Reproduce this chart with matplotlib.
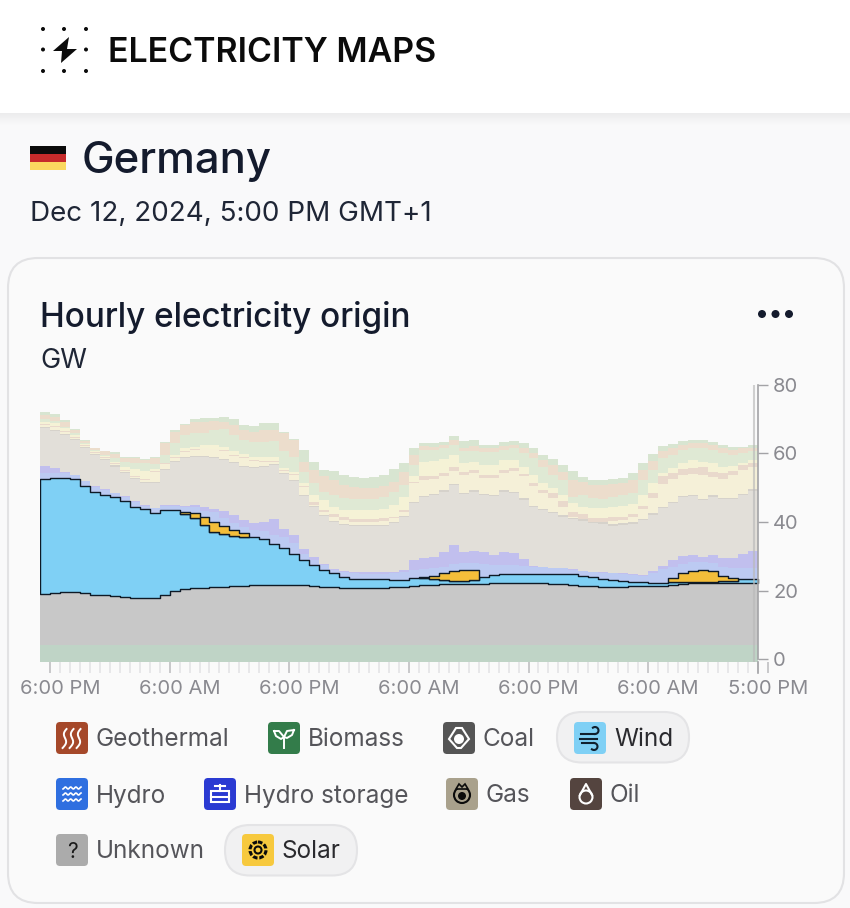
import numpy as np
import matplotlib
matplotlib.use('Agg')
from matplotlib import pyplot as plt
from matplotlib.patches import FancyBboxPatch, Rectangle, Circle, Polygon
from matplotlib.transforms import ScaledTranslation

# Hourly stack, GW. Series that were easier to read as stack tops are named *_top.
biomass_top = [4.2, 4.2, 4.2, 4.2, 4.2, 4.2, 4.2, 4.2, 4.2, 4.2, 4.2, 4.2, 4.2, 4.2, 4.2, 4.2, 4.2, 4.2,
               4.2, 4.2, 4.2, 4.2, 4.2, 4.2, 4.2, 4.2, 4.2, 4.2, 4.2, 4.2, 4.2, 4.2, 4.2, 4.2, 4.2, 4.2,
               4.2, 4.2, 4.2, 4.2, 4.2, 4.2, 4.2, 4.2, 4.2, 4.2, 4.2, 4.2, 4.2, 4.2, 4.2, 4.2, 4.2, 4.2,
               4.2, 4.2, 4.2, 4.2, 4.2, 4.2, 4.2, 4.2, 4.2, 4.2, 4.2, 4.2, 4.2, 4.2, 4.2, 4.2, 4.2, 4.2]
coal_top = [19.0, 19.3, 19.5, 19.6, 19.4, 18.8, 18.8, 18.5, 18.1, 17.7, 17.9, 17.9, 18.7, 19.9, 20.4, 20.7, 20.7, 20.9,
            21.0, 21.2, 21.3, 21.6, 21.7, 21.7, 21.7, 21.6, 21.5, 21.3, 21.1, 21.0, 20.8, 20.6, 20.6, 20.6, 20.7, 20.9,
            21.1, 21.4, 21.7, 21.7, 21.8, 21.9, 21.9, 21.9, 22.0, 22.2, 22.2, 22.2, 22.2, 22.2, 22.1, 22.0, 22.0, 21.7,
            21.2, 21.2, 21.1, 21.1, 21.1, 21.2, 21.2, 21.2, 21.2, 21.5, 22.0, 22.1, 22.1, 22.2, 22.2, 22.2, 22.3, 22.3]
wind_top = [52.7, 52.8, 52.9, 52.5, 50.5, 48.9, 48.0, 47.2, 46.2, 44.3, 43.7, 42.6, 43.6, 43.5, 42.4, 41.2, 39.0, 37.0,
            36.4, 35.8, 35.7, 35.6, 35.0, 33.7, 32.4, 30.8, 28.9, 27.3, 25.9, 25.2, 24.0, 23.5, 23.4, 23.4, 23.3, 23.2,
            23.2, 23.6, 23.6, 23.3, 23.1, 22.9, 22.9, 23.1, 23.9, 24.6, 24.8, 24.8, 24.7, 24.7, 24.7, 24.7, 24.8, 24.7,
            24.1, 23.8, 23.4, 23.1, 22.9, 22.6, 22.4, 22.3, 22.3, 22.4, 22.6, 22.6, 22.6, 22.6, 22.7, 22.9, 23.3, 23.5]
solar = [0, 0, 0, 0, 0, 0, 0, 0, 0, 0, 0, 0, 0, 0, 0.4, 1.4, 2.5, 3.1,
         2.5, 1.9, 1.1, 0.3, 0, 0, 0, 0, 0, 0, 0, 0, 0, 0, 0, 0, 0, 0,
         0, 0, 0.2, 0.8, 2.1, 2.8, 3.0, 2.8, 1.5, 0, 0, 0, 0, 0, 0, 0, 0, 0,
         0, 0, 0, 0, 0, 0, 0, 0, 0, 1.2, 2.4, 3.1, 3.4, 3.1, 1.6, 0.7, 0.1, 0]
hydro_top = [54.2, 54.2, 54.4, 53.7, 52.0, 50.3, 49.4, 48.4, 47.4, 45.7, 44.7, 44.0, 44.7, 44.7, 44.3, 44.3, 43.3, 42.8,
             41.1, 39.8, 38.5, 37.7, 37.5, 36.2, 35.5, 33.8, 30.7, 29.0, 27.5, 26.0, 25.3, 25.0, 24.9, 24.9, 24.9, 25.1,
             25.5, 26.0, 26.2, 26.5, 27.0, 27.8, 28.0, 28.0, 27.7, 27.5, 27.5, 27.5, 27.2, 27.0, 26.8, 26.5, 26.5, 26.0,
             25.6, 25.3, 25.1, 25.0, 24.9, 24.6, 24.2, 25.1, 26.2, 27.0, 27.8, 28.2, 28.3, 28.0, 27.0, 26.5, 26.5, 26.5]
storage_top = [56.4, 55.7, 54.7, 53.7, 52.1, 50.5, 49.6, 48.6, 47.6, 46.0, 44.9, 44.1, 45.0, 44.9, 44.8, 44.9, 44.5, 43.7,
               43.1, 42.1, 40.6, 39.8, 40.1, 40.9, 38.0, 36.1, 32.2, 29.9, 27.8, 26.3, 25.6, 25.3, 25.3, 25.3, 25.3, 25.3,
               26.0, 29.0, 29.4, 29.9, 31.2, 33.3, 31.1, 31.6, 31.2, 30.4, 31.1, 30.9, 29.2, 27.2, 27.0, 26.7, 26.5, 26.2,
               25.8, 25.5, 25.3, 25.1, 25.0, 24.8, 24.6, 25.6, 27.2, 29.0, 30.2, 30.4, 29.9, 30.4, 29.6, 29.4, 30.7, 31.4]
gas_top = [67.3, 66.7, 65.4, 63.9, 61.5, 59.6, 58.1, 56.2, 54.2, 52.5, 51.5, 51.3, 55.2, 57.6, 58.6, 59.1, 58.9, 58.6,
           58.1, 57.2, 56.0, 55.7, 56.0, 56.7, 54.0, 52.1, 47.6, 44.5, 41.8, 40.1, 39.2, 38.7, 38.7, 38.7, 38.7, 39.7,
           41.4, 45.5, 47.2, 47.9, 48.9, 50.8, 48.2, 48.9, 47.9, 47.6, 48.9, 48.4, 46.5, 44.3, 43.5, 42.6, 41.6, 40.8,
           40.4, 39.7, 39.5, 38.9, 39.2, 39.5, 40.6, 42.1, 44.0, 45.5, 47.2, 47.6, 46.3, 47.4, 46.6, 46.6, 47.9, 49.1]
oil_top = [67.6, 67.0, 65.7, 64.2, 61.8, 59.9, 58.4, 56.5, 54.5, 52.8, 51.8, 51.6, 55.5, 57.9, 58.9, 59.4, 59.2, 58.9,
           58.4, 57.5, 56.3, 56.0, 56.3, 57.0, 54.3, 52.4, 47.9, 44.8, 42.1, 40.4, 39.5, 39.0, 39.0, 39.0, 39.0, 40.0,
           41.7, 45.8, 47.6, 48.3, 49.3, 51.2, 48.6, 49.3, 48.3, 48.0, 49.3, 48.8, 46.9, 44.7, 43.9, 43.0, 42.0, 41.2,
           40.8, 40.1, 39.9, 39.3, 39.6, 39.9, 41.0, 42.5, 44.4, 45.9, 47.6, 48.0, 46.7, 47.8, 47.0, 47.0, 48.3, 49.5]

# pale bands above: one per import origin
import1_top = [68.2, 67.7, 66.3, 64.6, 62.2, 60.0, 58.6, 56.9, 54.8, 53.2, 52.4, 54.7, 56.9, 58.6, 60.3, 61.0, 61.5, 61.2,
               60.8, 59.3, 58.6, 57.8, 57.6, 57.6, 54.9, 53.8, 50.2, 45.0, 42.8, 41.4, 40.6, 40.1, 40.1, 40.1, 40.3, 41.1,
               42.8, 51.3, 52.3, 52.5, 53.3, 55.0, 53.8, 54.2, 52.8, 52.8, 54.2, 55.0, 53.3, 50.5, 48.4, 46.9, 44.3, 41.4,
               40.8, 40.1, 40.1, 40.3, 40.6, 41.4, 43.7, 46.9, 51.1, 52.5, 53.8, 54.0, 53.8, 53.1, 52.7, 53.8, 55.2, 56.0]
import2_top = [68.6, 68.0, 66.7, 64.9, 62.4, 60.3, 58.9, 57.2, 55.2, 53.5, 52.7, 55.0, 57.2, 58.9, 60.6, 61.2, 61.7, 61.4,
               61.0, 59.5, 58.9, 58.1, 57.9, 57.9, 55.2, 54.0, 50.5, 45.7, 43.4, 42.3, 41.4, 41.0, 40.8, 40.8, 41.1, 41.6,
               43.5, 51.8, 53.3, 53.3, 54.2, 56.0, 54.7, 55.2, 53.8, 53.6, 55.2, 55.7, 54.0, 51.5, 49.4, 48.4, 46.0, 42.8,
               42.4, 41.3, 41.3, 41.4, 41.6, 42.3, 44.7, 48.4, 53.3, 54.2, 55.4, 55.7, 56.0, 54.7, 54.2, 55.0, 56.7, 57.2]
import3_top = [69.3, 68.8, 67.4, 65.3, 62.8, 60.6, 59.3, 57.6, 56.0, 55.4, 55.0, 55.4, 57.2, 59.6, 61.5, 62.0, 62.5, 62.5,
               62.0, 60.6, 59.9, 58.9, 58.9, 58.9, 55.7, 54.7, 51.3, 47.9, 46.3, 44.5, 43.5, 43.4, 43.4, 43.4, 43.7, 45.0,
               47.4, 53.3, 57.6, 57.8, 58.3, 59.6, 57.2, 57.6, 56.7, 56.7, 58.1, 58.1, 56.2, 53.8, 51.3, 49.9, 47.9, 45.5,
               44.5, 44.0, 44.0, 44.5, 44.7, 45.3, 47.9, 51.3, 54.2, 55.7, 57.2, 58.1, 57.6, 57.2, 56.2, 56.4, 57.2, 58.1]
import4_top = [70.0, 69.6, 67.8, 65.9, 63.2, 61.0, 59.6, 58.6, 57.6, 57.2, 57.2, 57.0, 59.6, 63.0, 65.4, 65.9, 65.9, 66.9,
               67.1, 65.4, 64.0, 63.5, 63.5, 63.7, 60.6, 58.9, 54.7, 51.3, 48.9, 47.9, 46.9, 46.7, 46.7, 46.7, 47.4, 48.9,
               50.8, 56.7, 61.0, 61.0, 61.5, 62.5, 60.6, 60.8, 60.3, 60.3, 61.0, 61.5, 60.1, 58.6, 56.2, 53.8, 52.3, 47.4,
               47.9, 46.9, 46.7, 47.2, 47.9, 48.4, 52.3, 55.2, 58.6, 59.6, 61.0, 61.5, 61.5, 61.0, 60.1, 59.6, 60.1, 60.6]
import5_top = [71.2, 70.8, 69.3, 66.9, 63.7, 61.5, 60.6, 59.9, 58.6, 58.6, 58.1, 58.6, 63.0, 66.4, 68.3, 69.3, 69.3, 69.5,
               69.3, 68.3, 66.9, 66.4, 66.9, 66.9, 65.9, 64.0, 57.6, 55.2, 53.3, 52.3, 50.8, 50.2, 49.9, 49.9, 50.4, 51.8,
               54.7, 59.6, 62.2, 62.0, 62.5, 64.0, 61.7, 62.2, 61.5, 61.5, 62.2, 62.5, 61.5, 60.1, 58.1, 56.7, 54.7, 52.3,
               51.8, 50.8, 50.8, 51.1, 51.5, 52.3, 55.2, 57.9, 60.6, 61.5, 62.5, 63.0, 63.0, 62.5, 61.5, 61.0, 61.5, 61.5]
total_top = [72.2, 71.5, 69.7, 67.2, 63.8, 61.6, 60.7, 60.3, 58.9, 58.9, 58.4, 58.9, 63.3, 66.9, 68.6, 70.0, 70.3, 70.3,
             70.6, 70.1, 68.4, 67.9, 68.9, 69.0, 66.2, 64.3, 61.0, 57.5, 55.2, 54.9, 53.7, 53.1, 52.8, 53.2, 53.7, 55.4,
             57.1, 61.5, 63.0, 63.0, 63.5, 65.0, 63.7, 63.8, 62.5, 62.5, 63.3, 63.7, 63.0, 61.5, 59.6, 58.3, 56.7, 55.0,
             53.1, 52.3, 52.3, 52.5, 52.8, 54.4, 57.1, 59.9, 62.2, 62.8, 63.7, 63.9, 63.9, 63.5, 62.5, 62.0, 62.0, 62.5]

major_hours = [1, 13, 25, 37, 49, 61, 73]
major_labels = ['6:00 PM', '6:00 AM', '6:00 PM', '6:00 AM', '6:00 PM', '6:00 AM', '5:00 PM']
y_ticks = [0, 20, 40, 60, 80]

legend_names = ['Geothermal', 'Biomass', 'Coal', 'Wind', 'Hydro', 'Hydro storage', 'Gas', 'Oil', 'Unknown', 'Solar']
legend_colors = ['#A5482A', '#337C4A', '#555555', '#7FD0F5', '#2F6FE0', '#2A3AD2', '#A9A18C', '#54443F', '#ABABAB', '#F7C93E']
legend_x = [72, 284, 459, 590, 72, 220, 462, 586, 72, 258]
legend_y = [738, 738, 738, 738, 794, 794, 794, 794, 850, 850]

W, H = 850, 908
plt.rcParams['font.family'] = ['Inter', 'DejaVu Sans']
fig = plt.figure(figsize=(W / 100, H / 100), dpi=100, facecolor='#F9F9FA')

# page furniture, in pixel coordinates
ui = fig.add_axes([0, 0, 1, 1])
ui.set_xlim(0, W)
ui.set_ylim(H, 0)
ui.axis('off')

ui.add_patch(Rectangle((0, 0), W, 113, fc='white', ec='none'))
for k in range(12):
    ui.add_patch(Rectangle((0, 113 + k), W, 1, fc='#000000', alpha=0.05 * (1 - k / 12), ec='none'))

for dx in [43, 64, 86]:
    for dy in [29, 49.5, 71]:
        if dx != 64 or dy != 49.5:
            ui.add_patch(Circle((dx, dy), 2, fc='#0B0B0B', ec='none'))
ui.add_patch(Polygon([(69, 37), (53, 51), (62, 51), (61, 63), (77, 49), (67, 49)], fc='#0B0B0B', ec='none'))
ui.text(108, 53, 'ELECTRICITY MAPS', fontsize=24.4, fontweight='semibold', color='#0B0B0B', va='center', ha='left')

ui.add_patch(Rectangle((30, 146), 36, 8, fc='#0B0B0B', ec='none'))
ui.add_patch(Rectangle((30, 154), 36, 8, fc='#C62B2B', ec='none'))
ui.add_patch(Rectangle((30, 162), 36, 8, fc='#FBD95F', ec='none'))
ui.text(82, 162, 'Germany', fontsize=31.5, fontweight='medium', color='#141B2D', va='center', ha='left')
ui.text(30, 214, 'Dec 12, 2024, 5:00 PM GMT+1', fontsize=20, color='#1F2636', va='center', ha='left')

ui.add_patch(FancyBboxPatch((8, 258), 836, 645, boxstyle='round,pad=0,rounding_size=30', fc='#FAFAFA', ec='#E2E2E4', lw=1.5))
ui.text(40, 317, 'Hourly electricity origin', fontsize=24, fontweight='medium', color='#141B2D', va='center', ha='left')
ui.text(40, 361, 'GW', fontsize=19.5, color='#1F2636', va='center', ha='left')
for dx in [762, 775.5, 789]:
    ui.add_patch(Circle((dx, 314), 4, fc='#141B2D', ec='none'))


# small white/black glyphs drawn inside the legend squares
def draw_glyph(name, cx, cy):
    if name == 'Geothermal':
        for off in [-7, 0, 7]:
            yy = np.linspace(-9, 10, 20)
            ui.plot(cx + off + 2 * np.sin(yy / 3) - yy / 5, cy + yy, color='white', lw=1.4)
    elif name == 'Biomass':
        ui.plot([cx, cx], [cy - 1, cy + 10], color='white', lw=1.4)
        ui.plot([cx - 10, cx - 8, cx - 3, cx, cx - 5, cx - 10], [cy - 7, cy - 2, cy + 1, cy - 1, cy - 7, cy - 7], color='white', lw=1.4)
        ui.plot([cx + 10, cx + 8, cx + 3, cx, cx + 3, cx + 10], [cy - 8, cy - 3, cy, cy - 1, cy - 7, cy - 8], color='white', lw=1.4)
    elif name == 'Coal':
        ui.add_patch(Polygon([(cx - 3, cy - 10), (cx + 3, cy - 10), (cx + 10, cy + 1), (cx + 2, cy + 10), (cx - 2, cy + 10), (cx - 10, cy + 1)], fc='none', ec='white', lw=1.5))
        ui.add_patch(Circle((cx, cy + 1), 5, fc='white', ec='none'))
    elif name == 'Wind':
        tt = np.linspace(-1.6, 2.2, 16)
        ui.plot([cx - 9, cx + 5], [cy - 4, cy - 4], color='#10202E', lw=1.5)
        ui.plot(cx + 5 + 3.5 * np.cos(tt), cy - 7.5 - 3.5 * np.sin(tt), color='#10202E', lw=1.5)
        ui.plot([cx - 10, cx + 7], [cy + 1, cy + 1], color='#10202E', lw=1.5)
        ui.plot([cx - 8, cx + 4], [cy + 5, cy + 5], color='#10202E', lw=1.5)
        ui.plot(cx + 4 + 3.5 * np.cos(tt), cy + 8.5 + 3.5 * np.sin(tt), color='#10202E', lw=1.5)
    elif name == 'Hydro':
        for yy in [-6, 0, 6]:
            xx = np.linspace(-9, 9, 30)
            ui.plot(cx + xx, cy + yy + np.sin(xx * 1.2), color='white', lw=1.2)
    elif name == 'Hydro storage':
        ui.add_patch(Rectangle((cx - 9, cy - 3), 18, 11, fc='none', ec='white', lw=1.5))
        ui.plot([cx, cx], [cy - 9, cy - 3], color='white', lw=1.5)
        ui.plot([cx - 5, cx + 5], [cy - 8, cy - 8], color='white', lw=1.5)
        ui.plot([cx - 9, cx + 9], [cy + 3, cy + 3], color='white', lw=1.5)
    elif name == 'Gas':
        ui.add_patch(Circle((cx, cy + 1), 8, fc='none', ec='#0B0B0B', lw=1.5))
        ui.add_patch(Polygon([(cx - 6, cy - 5), (cx - 3, cy - 10), (cx, cy - 7), (cx + 3, cy - 10), (cx + 6, cy - 5)], fc='#A9A18C', ec='#0B0B0B', lw=1.2))
        ui.add_patch(Circle((cx, cy + 2), 4, fc='#0B0B0B', ec='none'))
    elif name == 'Oil':
        ui.add_patch(Circle((cx, cy + 3), 6.5, fc='none', ec='white', lw=1.5))
        ui.plot([cx - 6, cx, cx + 6], [cy + 1, cy - 10, cy + 1], color='white', lw=1.5)
    elif name == 'Unknown':
        ui.text(cx, cy + 1.5, '?', fontsize=15, color='#1A1A1A', ha='center', va='center')
    elif name == 'Solar':
        ui.add_patch(Circle((cx, cy), 8, fc='none', ec='#0B0B0B', lw=2.2, ls=(0, (1.5, 0.6))))
        ui.add_patch(Circle((cx, cy), 3.5, fc='none', ec='#0B0B0B', lw=1.5))


for pill_x in [557, 225]:
    pill_y = 712 if pill_x == 557 else 825
    ui.add_patch(FancyBboxPatch((pill_x, pill_y), 132, 50.5, boxstyle='round,pad=0,rounding_size=25', fc='#F1F1F2', ec='#E4E4E6', lw=1.5))
for name, col, cx, cy in zip(legend_names, legend_colors, legend_x, legend_y):
    ui.add_patch(FancyBboxPatch((cx - 16, cy - 16), 32, 32, boxstyle='round,pad=0,rounding_size=4', fc=col, ec='none'))
    draw_glyph(name, cx, cy)
    active = name in ('Wind', 'Solar')
    ui.text(cx + 24, cy + 2, name, fontsize=17.5, color='#2A2A2E' if active else '#55555A', va='center', ha='left')

# the chart itself
x0_px, x1_px = 40.0, 767.8
top_px, bot_px = 385.0, 661.7
ax = fig.add_axes([x0_px / W, 1 - bot_px / H, (x1_px - x0_px) / W, (bot_px - top_px) / H], facecolor='none')
ax.set_xlim(0, 73)
y_floor = -(bot_px - 659.0) / 3.425
ax.set_ylim(y_floor, 80)

edges = np.arange(73)


def ext(vals):
    return np.append(vals, vals[-1])


solar_top = np.array(wind_top) + np.array(solar)
floor = np.full(72, y_floor)
layers = [
    (floor, biomass_top, '#BFD4C6'),
    (biomass_top, coal_top, '#C8C8C8'),
    (wind_top, hydro_top, '#BCCAF2'),
    (hydro_top, storage_top, '#C1BFEE'),
    (storage_top, gas_top, '#E2DFD9'),
    (gas_top, oil_top, '#D6D2CB'),
    (oil_top, import1_top, '#F5F0D8'),
    (import1_top, import2_top, '#E9D9CC'),
    (import2_top, import3_top, '#F5F2D6'),
    (import3_top, import4_top, '#DFE9D4'),
    (import4_top, import5_top, '#ECDDCC'),
    (import5_top, total_top, '#D8E5D1'),
]
for lo, hi, col in layers:
    ax.fill_between(edges, ext(lo), ext(hi), step='post', color=col, lw=0)

# highlighted series keep full colour and a black outline
ax.fill_between(edges, ext(coal_top), ext(wind_top), step='post', facecolor='#7FD0F5', edgecolor='#0E1A26', lw=1.0)
ax.fill_between(edges, ext(wind_top), ext(solar_top), step='post', facecolor='#F4BE3A', edgecolor='#0E1A26', lw=1.0,
                where=ext(np.array(solar)) > 0)

ax.axvline(71.6, color='#B9B9B9', alpha=0.65, lw=1.5)

for side in ['top', 'left', 'bottom']:
    ax.spines[side].set_visible(False)
ax.spines['right'].set_position(('data', 72))
ax.spines['right'].set_color('#A3A3A6')
ax.spines['right'].set_linewidth(1.2)
ax.spines['right'].set_bounds(0, 80)
ax.yaxis.tick_right()
ax.set_yticks(y_ticks)
ax.tick_params(axis='y', length=7.5, width=1, color='#A3A3A6', labelcolor='#8A8A90', labelsize=14.5, pad=3.5)

ax.set_xticks(major_hours)
ax.set_xticklabels(major_labels)
ax.set_xticks(np.arange(1, 74), minor=True)
ax.tick_params(axis='x', which='major', length=8, width=1.3, color='#C4C4C6', labelcolor='#8A8A90', labelsize=14.5, pad=5)
ax.tick_params(axis='x', which='minor', length=8, width=1.2, color='#E4E4E6')
ax.xaxis.get_major_ticks()[-1].tick1line.set_color('#E4E4E6')
ax.plot([72, 72], [0, -0.04], transform=ax.get_xaxis_transform(), clip_on=False, color='#A3A3A6', lw=1.2)

# the hour labels sit about 10 px right of their ticks, except the last one
label_shift = ScaledTranslation(10 / 100, 0, fig.dpi_scale_trans)
for lab in ax.get_xticklabels()[:-1]:
    lab.set_transform(lab.get_transform() + label_shift)

fig.savefig('out.png', dpi=100, facecolor=fig.get_facecolor())
